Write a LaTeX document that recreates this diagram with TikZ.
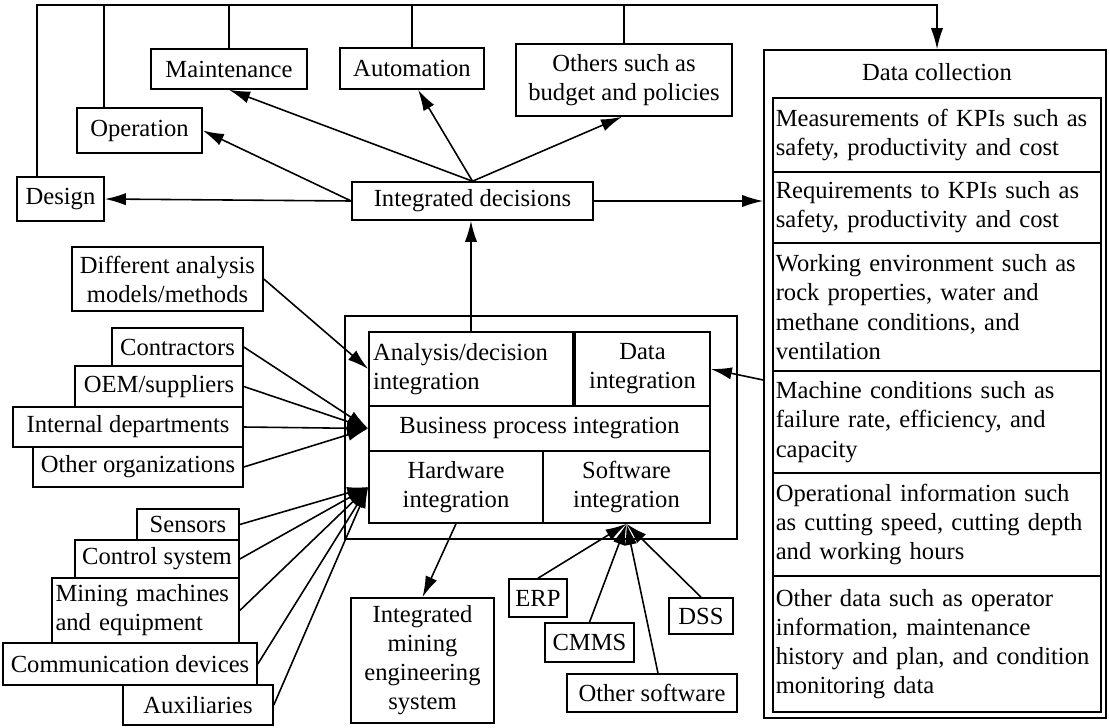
\documentclass[tikz,border=0pt]{standalone}
\usepackage{fontspec}
\setmainfont{Liberation Serif}
\usetikzlibrary{arrows.meta,calc}
\begin{document}
\begin{tikzpicture}[x=0.02cm,y=-0.02cm,
  rect/.style n args={4}{at={({(#1+#3)/2},{(#2+#4)/2})}, minimum width={(#3-#1)*0.02cm}, minimum height={(#4-#2)*0.02cm}},
  box/.style={draw, line width=0.9pt, inner sep=0pt, font=\fontsize{14}{16.5}\selectfont, align=center},
  lbox/.style={box, align=left},
  dbox/.style={box, align=left, text width=6.45cm, font=\fontsize{14}{16.6}\selectfont},
  plain/.style={inner sep=0pt, font=\fontsize{14}{16.5}\selectfont},
  arr/.style={line width=0.9pt, -{Latex[length=12pt,width=7pt]}},
  ln/.style={line width=0.9pt}]
\useasboundingbox (0,0) rectangle (1109,727);

% top decision targets
\node[box, rect={151}{49}{307}{89}] (maint) {Maintenance};
\node[box, rect={77}{108}{202}{153}] (oper) {Operation};
\node[box, rect={17}{177}{104}{221}] (design) {Design};
\node[box, rect={340}{48}{484}{89}] (auto) {Automation};
\node[box, rect={516}{44}{732}{116}] (others) {Others such as\\budget and policies};
\node[box, rect={352}{182}{593}{220}] (idec) {Integrated decisions};

% data collection
\node[box, rect={764}{50}{1106}{718}] (dc) {};
\node[plain] (dctitle) at (937,72) {Data collection};
\node[dbox, rect={773}{98}{1101}{172}] (r1) {Measurements of KPIs such as\\safety, productivity and cost};
\node[dbox, rect={773}{172}{1101}{243}] (r2) {Requirements to KPIs such as\\safety, productivity and cost};
\node[dbox, rect={773}{243}{1101}{371}] (r3) {Working environment such as\\rock properties, water and\\methane conditions, and\\ventilation};
\node[dbox, rect={773}{371}{1101}{473}] (r4) {Machine conditions such as\\failure rate, efficiency, and\\capacity};
\node[dbox, rect={773}{473}{1101}{576}] (r5) {Operational information such\\as cutting speed, cutting depth\\and working hours};
\node[dbox, rect={773}{576}{1101}{712}] (r6) {Other data such as operator\\information, maintenance\\history and plan, and condition\\monitoring data};

% integration block
\node[box, rect={345}{316}{737}{539}] (intbox) {};
\node[lbox, rect={369}{332}{573}{406}, text width=3.92cm] (anal) {Analysis/decision\\integration};
\node[box, rect={575}{332}{710}{406}] (dint) {Data\\integration};
\node[box, rect={369}{406}{710}{451}] (bpi) {Business process integration};
\node[box, rect={369}{451}{543}{523}] (hw) {Hardware\\integration};
\node[box, rect={543}{451}{710}{523}] (sw) {Software\\integration};

% left inputs
\node[box, rect={72}{247}{263}{311}] (dam) {Different analysis\\models/methods};
\node[box, rect={112}{328}{243}{366}] (contr) {Contractors};
\node[box, rect={75}{366}{243}{407}] (oem) {OEM/suppliers};
\node[box, rect={13}{407}{243}{447}] (intd) {Internal departments};
\node[box, rect={33}{447}{243}{487}] (otho) {Other organizations};
\node[box, rect={137}{509}{239}{540}] (sens) {Sensors};
\node[box, rect={75}{540}{239}{578}] (ctrl) {Control system};
\node[lbox, rect={52}{578}{239}{643}, text width=3.6cm] (mine) {Mining machines\\and equipment};
\node[box, rect={3}{643}{257}{685}] (comm) {Communication devices};
\node[box, rect={123}{685}{273}{725}] (aux) {Auxiliaries};

% bottom
\node[box, rect={351}{598}{494}{723}] (imes) {Integrated\\mining\\engineering\\system};
\node[box, rect={509}{579}{567}{617}] (erp) {ERP};
\node[box, rect={545}{623}{634}{662}] (cmms) {CMMS};
\node[box, rect={567}{674}{737}{712}] (osw) {Other software};
\node[box, rect={669}{598}{733}{634}] (dss) {DSS};

% feedback line along the top
\coordinate (tl) at (37,5);
\coordinate (tr) at (937,5);
\coordinate (b1) at (104,5);
\draw[arr] (tl |- design.north) -- (tl) -- (tr) -- (tr |- dc.north);
\draw[ln] (b1 |- oper.north) -- (b1);
\draw[ln] (maint.north) -- (maint.north |- tl);
\draw[ln] (auto.north) -- (auto.north |- tl);
\draw[ln] (others.north) -- (others.north |- tl);

% decisions
\draw[arr] (idec.north) -- (maint.south);
\draw[arr] (idec.north) -- ($(auto.south)+(6,0)$);
\draw[arr] (idec.north) -- ($(others.south)+(-2,0)$);
\draw[arr] (idec.west) -- (oper.east);
\draw[arr] (idec.west) -- (design.east);
\draw[arr] (idec.east) -- (idec.east -| dc.west);
\draw[arr] (anal.north) -- (anal.north |- idec.south);
\draw[arr] ($(dc.west)+(0,-4)$) -- (dint.east);

% left inputs
\draw[arr] (dam.east) -- (anal.west);
\draw[arr] (contr.east) -- (bpi.west);
\draw[arr] (oem.east) -- (bpi.west);
\draw[arr] (intd.east) -- (bpi.west);
\draw[arr] (otho.east) -- (bpi.west);
\draw[arr] (sens.east) -- (hw.west);
\draw[arr] (ctrl.east) -- (hw.west);
\draw[arr] (mine.east) -- (hw.west);
\draw[arr] (comm.east) -- (hw.west);
\draw[arr] (aux.east) -- (hw.west);

% bottom
\draw[arr] (hw.south) -- (imes.north);
\draw[arr] (erp.north) -- (sw.south);
\draw[arr] (cmms.north) -- (sw.south);
\draw[arr] ($(osw.north)+(6,0)$) -- (sw.south);
\draw[arr] (dss.north) -- (sw.south);
\end{tikzpicture}
\end{document}
